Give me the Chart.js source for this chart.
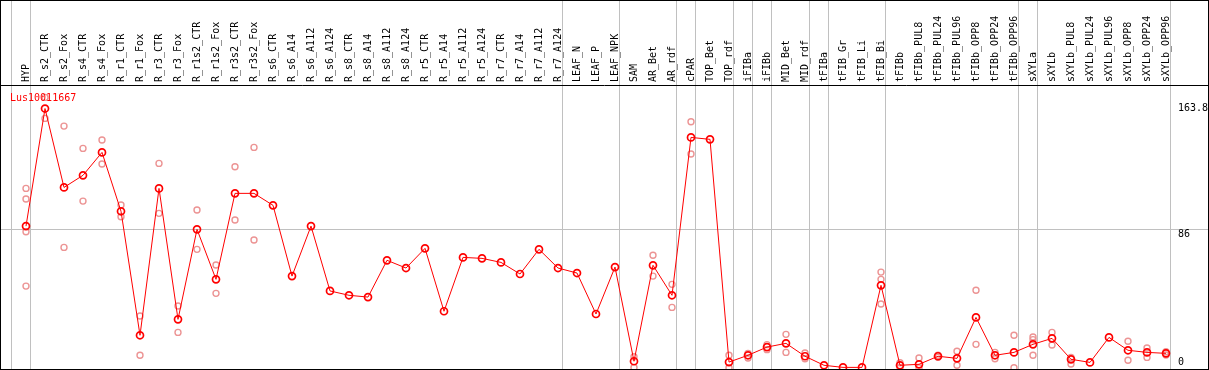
<!DOCTYPE html>
<html lang="en">
<head>
    <meta charset="UTF-8">
    <script src="https://cdn.jsdelivr.net/npm/chart.js@4.4.1/dist/chart.umd.min.js"></script>
    <title>Lus10011667</title>
    <style>
        html, body { margin: 0; padding: 0; background: #fff; }
        #chart { display: block; }
    </style>
</head>
<body>
    <canvas id="chart" width="1209" height="370"></canvas>
    <script>
        // sample names along the top
        const labels = ['HYP','R_s2_CTR','R_s2_Fox','R_s4_CTR','R_s4_Fox','R_r1_CTR','R_r1_Fox','R_r3_CTR','R_r3_Fox',
            'R_r1s2_CTR','R_r1s2_Fox','R_r3s2_CTR','R_r3s2_Fox','R_s6_CTR','R_s6_A14','R_s6_A112','R_s6_A124',
            'R_s8_CTR','R_s8_A14','R_s8_A112','R_s8_A124','R_r5_CTR','R_r5_A14','R_r5_A112','R_r5_A124',
            'R_r7_CTR','R_r7_A14','R_r7_A112','R_r7_A124','LEAF_N','LEAF_P','LEAF_NPK','SAM','AR_Bet','AR_rdf',
            'cPAR','TOP_Bet','TOP_rdf','iFIBa','iFIBb','MID_Bet','MID_rdf','tFIBa','tFIB_Gr','tFIB_Li','tFIB_Bi',
            'tFIBb','tFIBb_PUL8','tFIBb_PUL24','tFIBb_PUL96','tFIBb_OPP8','tFIBb_OPP24','tFIBb_OPP96',
            'sXYLa','sXYLb','sXYLb_PUL8','sXYLb_PUL24','sXYLb_PUL96','sXYLb_OPP8','sXYLb_OPP24','sXYLb_OPP96'];

        // mean expression (red line)
        const means = [87.8,160.7,111.8,119.3,133.5,97.0,20.1,111.2,30.0,85.8,54.8,108.1,108.1,100.7,56.8,
            87.8,47.6,44.9,43.8,66.6,61.8,74.0,35.0,68.4,67.8,65.3,58.1,73.4,61.8,58.7,33.3,62.4,4.0,63.5,44.9,
            142.8,141.6,3.5,7.7,12.8,15.1,7.1,1.5,0.2,0.2,51.1,1.5,2.1,7.1,5.8,31.2,7.7,9.5,14.5,18.2,5.2,3.3,
            18.8,10.8,9.5,8.9];

        // replicate values (faded circles), null = not visible
        const repA = [111.2,167.6,149.8,136.0,141.2,100.9,32.1,126.7,38.3,97.8,63.7,124.6,136.6,null,null,
            null,null,null,null,null,null,null,null,null,null,null,null,null,null,null,null,null,6.8,69.7,51.7,
            152.5,null,7.7,8.9,14.3,20.7,9.1,null,null,null,59.3,3.1,6.0,7.7,10.2,48.0,9.5,20.1,19.0,21.9,6.4,null,
            null,16.4,12.2,9.9];
        const repB = [104.6,154.6,74.6,103.3,126.3,93.6,7.7,95.7,21.9,73.4,46.1,91.6,79.2,null,null,
            null,null,null,null,null,null,null,null,null,null,null,null,null,null,null,null,null,0.2,56.8,37.4,
            132.5,null,0.0,6.0,11.2,9.5,5.6,null,null,null,54.8,0.0,0.0,6.5,1.5,14.5,5.6,0.0,17.4,14.1,2.3,null,
            null,4.6,6.4,7.9];
        const repC = {0: 84.3, 45: 39.5, 53: 7.7};
        const repD = {0: 50.6};

        // last sample of each group (grey separators drawn just after it)
        const groupEnds = [-1,0,28,31,34,35,37,38,39,41,42,45,52,53,60];
        const yTicks = [0, 86, 163.8];
        const geneName = 'Lus10011667';

        const monoFont = {family: '"DejaVu Sans Mono", monospace', size: 10};

        function toPoints(arr) {
            const pts = [];
            arr.forEach((v, i) => { if (v !== null && v !== undefined) pts.push({x: i, y: v}); });
            return pts;
        }
        function mapPoints(obj) {
            return Object.keys(obj).map(k => ({x: +k, y: obj[k]}));
        }

        const repPoints = [].concat(toPoints(repA), toPoints(repB), mapPoints(repC), mapPoints(repD));

        function noPad(s) {
            s.paddingLeft = 0;
            s.paddingRight = 0;
            s.paddingTop = 0;
            s.paddingBottom = 0;
        }

        const framePlugin = {
            id: 'frame',
            beforeDraw(chart) {
                const c = chart.ctx, xs = chart.scales.x;
                c.save();
                c.fillStyle = '#fff';
                c.fillRect(0, 0, chart.width, chart.height);
                c.strokeStyle = '#c0c0c0';
                c.lineWidth = 1;
                groupEnds.forEach(g => {
                    const px = Math.round(xs.getPixelForValue(g + 0.2)) + 0.5;
                    c.beginPath();
                    c.moveTo(px, 0);
                    c.lineTo(px, chart.height);
                    c.stroke();
                });
                c.restore();
            },
            afterDraw(chart) {
                const c = chart.ctx, ys = chart.scales.y, area = chart.chartArea;
                c.save();
                c.font = '10px "DejaVu Sans Mono", monospace';
                c.textBaseline = 'alphabetic';
                c.textAlign = 'left';
                c.fillStyle = '#000';
                yTicks.forEach((t, i) => {
                    const py = ys.getPixelForValue(t);
                    c.fillText(String(t), 1178, i === 0 ? py - 3 : py + 7.5);
                });
                c.fillStyle = '#ff0000';
                c.fillText(geneName, 10, area.top + 16);
                c.strokeStyle = '#000';
                c.lineWidth = 1;
                c.strokeRect(0.5, 0.5, chart.width - 1, chart.height - 1);
                c.beginPath();
                c.moveTo(0, area.top + 0.5);
                c.lineTo(chart.width, area.top + 0.5);
                c.stroke();
                c.restore();
            }
        };

        const config = {
            type: 'line',
            data: {
                datasets: [{
                    label: geneName,
                    data: toPoints(means),
                    borderColor: '#ff0000',
                    borderWidth: 1,
                    pointRadius: 3.5,
                    pointBorderWidth: 1.7,
                    pointBorderColor: '#ff0000',
                    pointBackgroundColor: 'rgba(0,0,0,0)',
                    tension: 0
                },
                {
                    label: 'replicates',
                    data: repPoints,
                    showLine: false,
                    pointRadius: 3,
                    pointBorderWidth: 1.4,
                    pointBorderColor: '#ec9494',
                    pointBackgroundColor: 'rgba(0,0,0,0)'
                }]
            },
            options: {
                responsive: false,
                animation: false,
                layout: { autoPadding: false, padding: {left: 0, right: 1, top: 0, bottom: 1} },
                plugins: {
                    legend: {display: false},
                    tooltip: {enabled: false}
                },
                scales: {
                    x: {
                        type: 'linear',
                        position: 'top',
                        min: -26 / 19,
                        max: -26 / 19 + 1208 / 19,
                        afterBuildTicks: s => { s.ticks = labels.map((_, i) => ({value: i})); },
                        afterFit: s => { s.height = 85; noPad(s); },
                        grid: {display: false, drawTicks: false},
                        border: {display: false},
                        ticks: {
                            autoSkip: false,
                            minRotation: 90,
                            maxRotation: 90,
                            padding: 3,
                            labelOffset: 12,
                            color: '#000',
                            font: monoFont,
                            callback: v => labels[v]
                        }
                    },
                    y: {
                        position: 'right',
                        min: -0.8,
                        max: 175.3,
                        afterBuildTicks: s => { s.ticks = yTicks.map(v => ({value: v})); },
                        afterFit: s => { s.width = 0; noPad(s); },
                        border: {display: false},
                        grid: {
                            drawTicks: false,
                            color: ctx => (ctx.tick && ctx.tick.value === 86) ? '#c0c0c0' : 'rgba(0,0,0,0)'
                        },
                        ticks: {display: false}
                    }
                }
            },
            plugins: [framePlugin]
        };

        const chart = new Chart(document.getElementById('chart'), config);
    </script>
</body>
</html>
